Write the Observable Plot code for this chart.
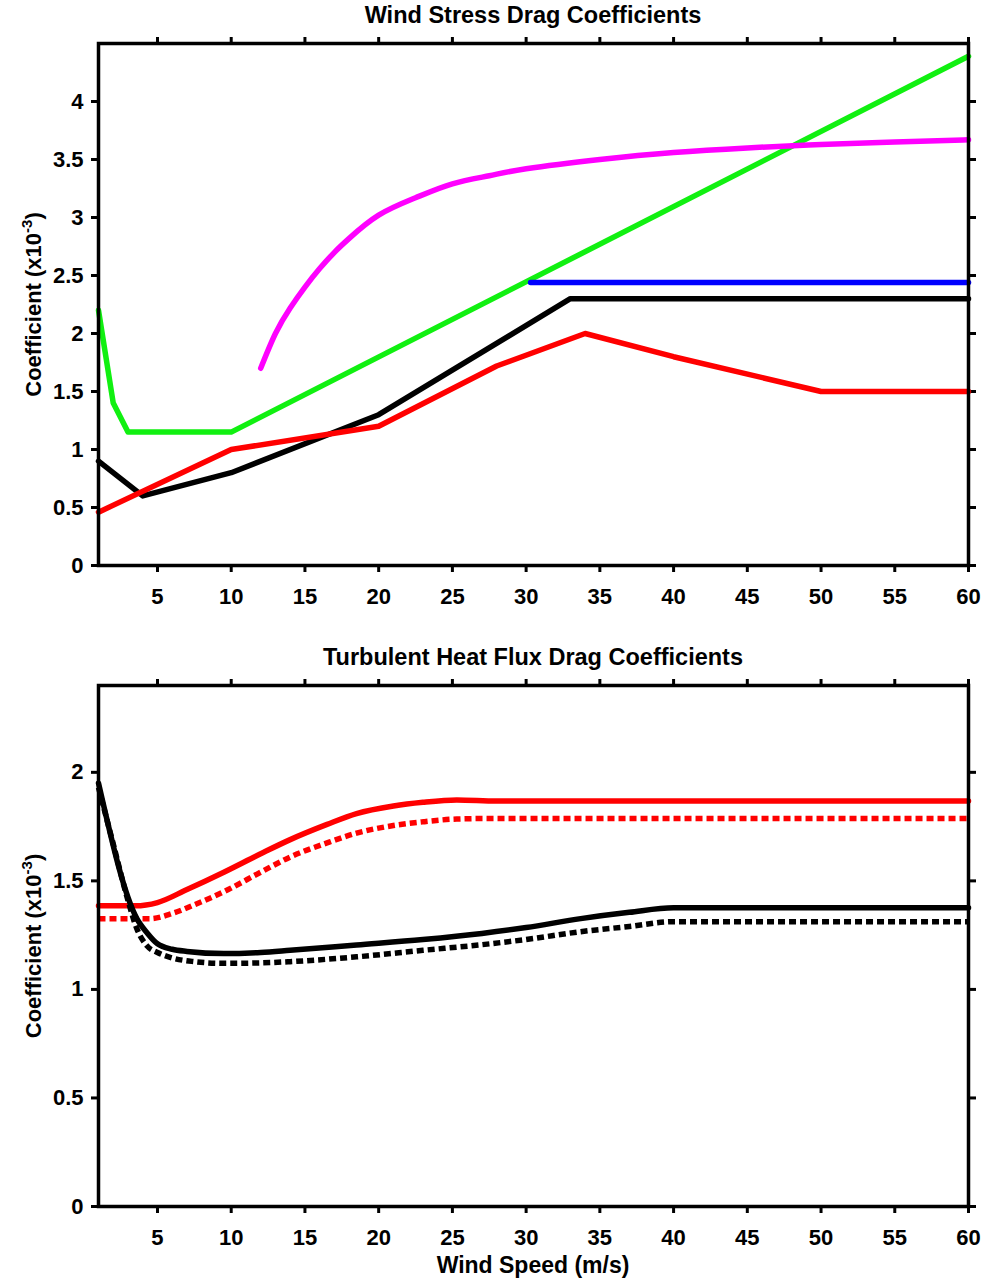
<!DOCTYPE html>
<html><head><meta charset="utf-8">
<script src="https://cdn.jsdelivr.net/npm/d3@7"></script>
<script src="https://cdn.jsdelivr.net/npm/@observablehq/plot@0.6"></script>
<style>
html,body{margin:0;padding:0;background:#fff;overflow:hidden;}
#wrap{width:985px;font-family:"Liberation Sans",Arial,sans-serif;color:#000;}
.title{font-weight:bold;font-size:23.5px;text-align:center;padding-left:98px;padding-right:17px;height:30px;line-height:30px;white-space:nowrap;}
</style></head><body><div id="wrap">
<div class="title" id="t1">Wind Stress Drag Coefficients</div>
<div id="p1"></div>
<div class="title" id="t2" style="margin-top:22px">Turbulent Heat Flux Drag Coefficients</div>
<div id="p2"></div>
<div class="title" id="xl" style="height:26px;line-height:26px;font-size:23px">Wind Speed (m/s)</div>
</div>
<script>
// ---- tick values ----
const speedTicks = [5, 10, 15, 20, 25, 30, 35, 40, 45, 50, 55, 60];
const stressTicks = [0, 0.5, 1, 1.5, 2, 2.5, 3, 3.5, 4];
const heatTicks = [0, 0.5, 1, 1.5, 2];

// ---- Wind stress drag coefficients (x1e-3) ----
const blackStressU = [1, 4, 10, 20, 33, 60];
const blackStressC = [0.9, 0.6, 0.8, 1.3, 2.3, 2.3];
const greenStressU = [1, 2, 3, 10, 60];
const greenStressC = [2.2, 1.4, 1.15, 1.15, 4.39];
const blueStressU = [30.3, 60];
const blueStressC = [2.44, 2.44];
const redStressU = [1, 10, 20, 28, 34, 40, 50, 60];
const redStressC = [0.46, 1.0, 1.2, 1.72, 2.0, 1.8, 1.5, 1.5];
const magentaStressU = [12, 13, 14, 15, 16, 17, 18, 20, 22.5, 25, 27.5, 30, 35, 40, 45, 50, 55, 60];
const magentaStressC = [1.7, 2.0, 2.22, 2.4, 2.56, 2.7, 2.82, 3.02, 3.17, 3.29, 3.36, 3.42, 3.5, 3.56, 3.6, 3.63, 3.65, 3.67];

// ---- Turbulent heat flux drag coefficients (x1e-3) ----
const redSolidU = [1, 3.5, 5, 7, 9.5, 12, 14, 16.5, 18.5, 21, 23, 25.3, 28, 60];
const redSolidC = [1.385, 1.385, 1.40, 1.46, 1.54, 1.625, 1.69, 1.76, 1.81, 1.845, 1.862, 1.873, 1.868, 1.868];
const redDashU = [1, 4.5, 6, 7.5, 9.5, 12, 14, 16.5, 18.5, 21, 23, 25.3, 27, 60];
const redDashC = [1.326, 1.326, 1.35, 1.39, 1.45, 1.54, 1.61, 1.675, 1.72, 1.755, 1.772, 1.785, 1.787, 1.787];
const blackSolidU = [1, 3.6, 4.3, 5, 6, 7, 9.5, 12, 14, 18.5, 23, 27, 30, 33.7, 37, 40, 60];
const blackSolidC = [1.95, 1.326, 1.26, 1.21, 1.185, 1.175, 1.165, 1.17, 1.18, 1.205, 1.23, 1.258, 1.285, 1.326, 1.355, 1.376, 1.376];
const blackDashU = [1, 2, 3, 3.6, 4.3, 5, 6, 7.5, 9.5, 12, 14, 18.5, 23, 27, 30, 33.7, 37, 40, 60];
const blackDashC = [1.93, 1.67, 1.41, 1.28, 1.2, 1.17, 1.145, 1.128, 1.12, 1.122, 1.128, 1.15, 1.18, 1.206, 1.23, 1.266, 1.29, 1.312, 1.312];

const rows = (U, C) => U.map((u, i) => ({u, c: C[i]}));

const common = {
  width: 985,
  marginLeft: 98,
  marginRight: 17,
  marginTop: 13,
  x: {type: "linear", domain: [1, 60]},
  style: {fontFamily: "'Liberation Sans', Arial, sans-serif", fontSize: "22px", fontWeight: "bold", background: "#fff", color: "#000"}
};

function axes(yTicks) {
  return [
    Plot.axisX({anchor: "bottom", ticks: speedTicks, tickSize: 7, tickPadding: 16, strokeWidth: 3, label: null, tickFormat: d => String(d)}),
    Plot.axisX({anchor: "top", ticks: speedTicks, tickSize: 7, strokeWidth: 3, label: null, tickFormat: () => ""}),
    Plot.axisY({anchor: "left", ticks: yTicks, tickSize: 7, tickPadding: 8, strokeWidth: 3, label: "Coefficient (x10-3)", labelAnchor: "center", labelOffset: 73, tickFormat: d => String(d)}),
    Plot.axisY({anchor: "right", ticks: yTicks, tickSize: 7, strokeWidth: 3, label: null, tickFormat: () => ""})
  ];
}

function supLabel(svg) {
  const t = svg.querySelector('g[aria-label="y-axis label"] text');
  if (!t) return;
  const ns = "http://www.w3.org/2000/svg";
  while (t.firstChild) t.removeChild(t.firstChild);
  const a = document.createElementNS(ns, "tspan"); a.textContent = "Coefficient (x10";
  const b = document.createElementNS(ns, "tspan"); b.textContent = "-3"; b.setAttribute("dy", "-9"); b.setAttribute("font-size", "15");
  const c = document.createElementNS(ns, "tspan"); c.textContent = ")"; c.setAttribute("dy", "9");
  t.appendChild(a); t.appendChild(b); t.appendChild(c);
}

const lw = 5.5;
const p1 = Plot.plot({
  ...common,
  height: 590,
  marginBottom: 55,
  y: {domain: [0, 4.5]},
  marks: [
    ...axes(stressTicks),
    Plot.line(rows(blackStressU, blackStressC), {x: "u", y: "c", stroke: "#000", strokeWidth: lw}),
    Plot.line(rows(greenStressU, greenStressC), {x: "u", y: "c", stroke: "#11f011", strokeWidth: lw}),
    Plot.line(rows(blueStressU, blueStressC), {x: "u", y: "c", stroke: "#0000ff", strokeWidth: lw}),
    Plot.line(rows(redStressU, redStressC), {x: "u", y: "c", stroke: "#ff0000", strokeWidth: lw}),
    Plot.line(rows(magentaStressU, magentaStressC), {x: "u", y: "c", stroke: "#ff00ff", strokeWidth: lw, curve: "natural"}),
    Plot.frame({stroke: "#000", strokeWidth: 3.5})
  ]
});
supLabel(p1);
document.getElementById("p1").appendChild(p1);

const p2 = Plot.plot({
  ...common,
  height: 580,
  marginBottom: 46,
  y: {domain: [0, 2.4]},
  marks: [
    ...axes(heatTicks),
    Plot.line(rows(redSolidU, redSolidC), {x: "u", y: "c", stroke: "#ff0000", strokeWidth: lw, curve: "monotone-x"}),
    Plot.line(rows(redDashU, redDashC), {x: "u", y: "c", stroke: "#ff0000", strokeWidth: lw, strokeDasharray: "7,4", strokeLinecap: "butt", curve: "monotone-x"}),
    Plot.line(rows(blackSolidU, blackSolidC), {x: "u", y: "c", stroke: "#000", strokeWidth: lw, curve: "monotone-x"}),
    Plot.line(rows(blackDashU, blackDashC), {x: "u", y: "c", stroke: "#000", strokeWidth: lw, strokeDasharray: "7,4", strokeLinecap: "butt", curve: "monotone-x"}),
    Plot.frame({stroke: "#000", strokeWidth: 3.5})
  ]
});
supLabel(p2);
document.getElementById("p2").appendChild(p2);
</script>
</body></html>
